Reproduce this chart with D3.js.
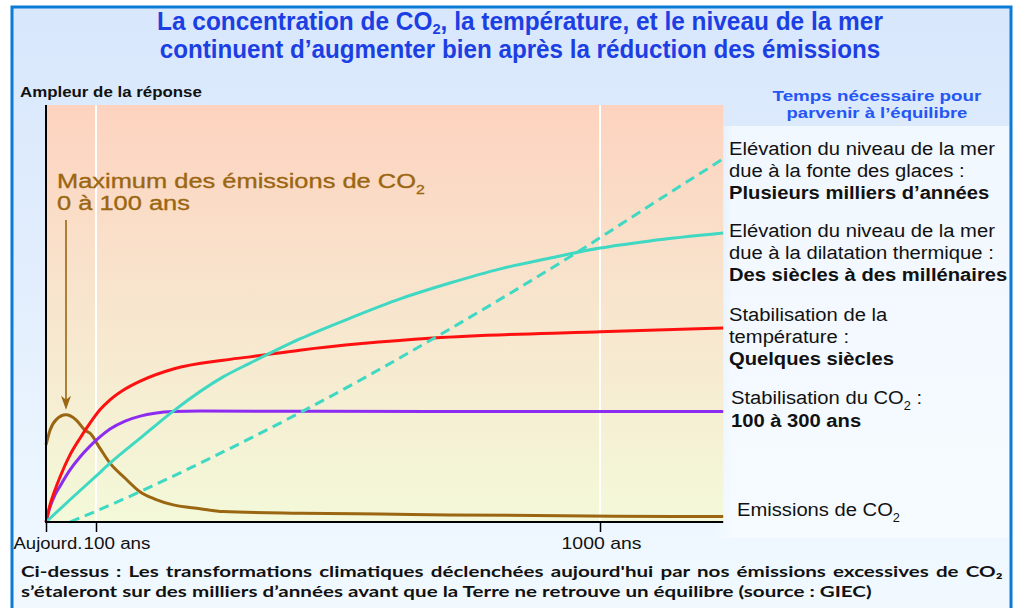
<!DOCTYPE html>
<html><head><meta charset="utf-8">
<script src="https://cdn.jsdelivr.net/npm/d3@7"></script>
<style>html,body{margin:0;padding:0;background:#fff;} svg{display:block;}</style>
</head><body>
<svg id="c" width="1018" height="608"></svg>
<script>
// ---------------- DATA ----------------
const xTickYears  = [0, 100, 1000];
const xTickLabels = ["Aujourd.", "100 ans", "1000 ans"];
const gridYears   = [100, 1000];
const horizonYears = 1220;
const valueMax = 100;

// [years after today, response amplitude]
const emissionsCO2 = [[0,18.5],[8,22],[20,24.5],[40,25.7],[60,24.5],[78,22],[88,21.3],[107,17.7],[125,14.1],[152,10.5],[179,7.2],[205,5.5],[238,4.1],[286,3.2],[327,2.5],[464,2.1],[607,1.9],[730,1.7],[1027,1.4],[1220,1.3]];
const co2Stabilisation = [[0,0],[8,3.6],[18,6.5],[28,8.6],[48,12.5],[68,15.6],[88,18.2],[107,20.4],[125,22.3],[152,24.2],[179,25.4],[205,26.1],[238,26.5],[286,26.6],[700,26.5],[1220,26.5]];
const temperature = [[0,0],[8,4.1],[18,7.7],[28,10.8],[48,16.1],[68,20.1],[88,23.7],[107,26.9],[125,29.3],[152,31.9],[179,33.8],[238,36.7],[327,38.8],[375,39.6],[464,41.2],[702,44.1],[1000,45.6],[1220,46.5]];
const thermalExpansion = [[0,0],[54,6],[100,11],[125,14.1],[179,20.1],[238,26.6],[327,34.8],[375,38.1],[464,43.9],[554,48.9],[643,53.5],[732,57.3],[822,60.7],[911,63.3],[1000,65.7],[1089,67.4],[1220,69.3]];
const iceMelt = [[48,0],[100,2.6],[179,7.3],[298,14.9],[464,26.2],[589,35.3],[709,44.5],[839,54.8],[970,65.6],[1089,75.9],[1220,87.1]];
const emissionsPeak = [40, 25.7];

const titleLines = ["La concentration de CO₂, la température, et le niveau de la mer",
                    "continuent d’augmenter bien après la réduction des émissions"];
const yAxisLabel = "Ampleur de la réponse";
const rightHeader = ["Temps nécessaire pour", "parvenir à l’équilibre"];
const peakLabel = ["Maximum des émissions de CO₂", "0 à 100 ans"];
const rightLabels = [
  [{t:"Elévation du niveau de la mer"},{t:"due à la fonte des glaces :"},{t:"Plusieurs milliers d’années",b:true}],
  [{t:"Elévation du niveau de la mer"},{t:"due à la dilatation thermique :"},{t:"Des siècles à des millénaires",b:true}],
  [{t:"Stabilisation de la"},{t:"température :"},{t:"Quelques siècles",b:true}],
  [{t:"Stabilisation du CO₂ :"},{t:"100 à 300 ans",b:true}],
  [{t:"Emissions de CO₂"}]
];
const captionLines = ["Ci-dessus : Les transformations climatiques déclenchées aujourd'hui par nos émissions excessives de CO\u2082",
                      "s’étaleront sur des milliers d’années avant que la Terre ne retrouve un équilibre (source : GIEC)"];

// ---------------- LAYOUT ----------------
const svg = d3.select("#c");
const FONT = "'Liberation Sans', Arial, Helvetica, sans-serif";
const plotTop = 105, plotBottom = 522;
const x = d3.scaleLinear().domain(xTickYears).range([46, 96, 600]);
const y = d3.scaleLinear().domain([0, valueMax]).range([plotBottom, plotTop]);

const defs = svg.append("defs");
function vgrad(id, stops, horiz) {
  const g = defs.append("linearGradient").attr("id", id).attr("x1",0).attr("y1",0)
    .attr("x2", horiz ? 1 : 0).attr("y2", horiz ? 0 : 1);
  stops.forEach(s => g.append("stop").attr("offset", s[0]).attr("stop-color", s[1]).attr("stop-opacity", s[2] === undefined ? 1 : s[2]));
}
vgrad("pageG", [[0,"#d8e7fc"],[0.45,"#e2eefd"],[0.85,"#eef7ff"],[1,"#f2faff"]]);
vgrad("plotG", [[0,"#fdd3bf"],[0.45,"#f8e4cd"],[1,"#f3f9d9"]]);
vgrad("panelG", [[0,"#f8fcff",0],[0.06,"#f8fcff",0.75],[1,"#f8fcff",0.75]], true);

function fitW(node, target, ax) {
  const L = node.getComputedTextLength();
  const s = target / L;
  node.setAttribute("transform", `translate(${ax},0) scale(${s},1) translate(${-ax},0)`);
  return s;
}
function scaleX(node, s, ax) {
  node.setAttribute("transform", `translate(${ax},0) scale(${s},1) translate(${-ax},0)`);
}
function richText(parent, str, tx, ty, size, subSize, subDy) {
  const t = parent.append("text").attr("x", tx).attr("y", ty).attr("font-size", size);
  const parts = str.split("₂");
  parts.forEach((p, i) => {
    if (i > 0) t.append("tspan").attr("font-size", subSize).attr("dy", subDy).text("2");
    if (p.length) {
      const sp = t.append("tspan").text(p);
      if (i > 0) sp.attr("dy", -subDy);
    }
  });
  return t;
}

// page background + border
svg.append("rect").attr("x", 12).attr("y", 7).attr("width", 999).attr("height", 615)
  .attr("fill", "url(#pageG)").attr("stroke", "#0b7bd5").attr("stroke-width", 3);
svg.append("rect").attr("x", 715).attr("y", 126).attr("width", 294).attr("height", 412)
  .attr("fill", "url(#panelG)");

// plot background
svg.append("rect").attr("x", x(0)).attr("y", plotTop)
  .attr("width", x(horizonYears) - x(0)).attr("height", plotBottom - plotTop)
  .attr("fill", "url(#plotG)");

// grid
svg.append("g").selectAll("line").data(gridYears).join("line")
  .attr("x1", d => x(d)).attr("x2", d => x(d)).attr("y1", plotTop).attr("y2", plotBottom)
  .attr("stroke", "#fff").attr("stroke-width", 2);

// curves
const line = d3.line().x(d => x(d[0])).y(d => y(d[1])).curve(d3.curveMonotoneX);
const series = [
  {d: emissionsCO2, c: "#9b6611"},
  {d: co2Stabilisation, c: "#8c2cf0"},
  {d: temperature, c: "#ff1010"},
  {d: thermalExpansion, c: "#3fd8c2"},
  {d: iceMelt, c: "#3fd8c2", dash: "10,6"}
];
svg.append("g").selectAll("path").data(series).join("path")
  .attr("d", s => line(s.d)).attr("fill", "none")
  .attr("stroke", s => s.c).attr("stroke-width", 3)
  .attr("stroke-dasharray", s => s.dash || null);

// axes
svg.append("line").attr("x1", x(0)).attr("x2", x(0)).attr("y1", plotTop).attr("y2", plotBottom)
  .attr("stroke", "#000").attr("stroke-width", 2);
svg.append("line").attr("x1", x(0) - 1).attr("x2", x(horizonYears)).attr("y1", plotBottom).attr("y2", plotBottom)
  .attr("stroke", "#000").attr("stroke-width", 2);
const xAxis = d3.axisBottom(x).tickValues(xTickYears).tickFormat((d, i) => xTickLabels[i])
  .tickSize(10).tickSizeOuter(0);
const axG = svg.append("g").attr("transform", `translate(0,${plotBottom})`).call(xAxis);
axG.select(".domain").remove();
axG.selectAll(".tick line").attr("stroke", "#000").attr("stroke-width", 1.5);
const tickShift = [1.5, 20.5, 1];
const tickWidth = [69, 67, 80];
axG.selectAll(".tick text").each(function(d, i) {
  const t = d3.select(this);
  t.attr("x", tickShift[i]).attr("y", 27).attr("dy", null)
   .attr("font-family", FONT).attr("font-size", 16).attr("fill", "#111").attr("text-anchor", "middle");
  fitW(this, tickWidth[i], tickShift[i]);
});

// arrow to emissions peak
const ax0 = x(emissionsPeak[0]), tipY = y(emissionsPeak[1]) - 5;
svg.append("line").attr("x1", ax0).attr("x2", ax0).attr("y1", 220).attr("y2", tipY - 6)
  .attr("stroke", "#9b6611").attr("stroke-width", 1.6);
svg.append("path")
  .attr("d", `M${ax0},${tipY} L${ax0 - 5},${tipY - 14} L${ax0},${tipY - 10} L${ax0 + 5},${tipY - 14} Z`)
  .attr("fill", "#9b6611");

// title
const tg = svg.append("g").attr("font-family", "'Liberation Sans Narrow', 'Liberation Sans', Arial, sans-serif")
  .attr("font-weight", "bold").attr("fill", "#1c3fe3").attr("text-anchor", "middle");
const titleW = [726, 721], titleY = [30, 58];
titleLines.forEach((s, i) => {
  const t = richText(tg, s, 520, titleY[i], 25, 15, 4);
  fitW(t.node(), titleW[i], 520);
});

// y axis label
const yl = svg.append("text").attr("x", 20).attr("y", 97).attr("font-family", FONT)
  .attr("font-weight", "bold").attr("font-size", 15).attr("fill", "#111").text(yAxisLabel);
fitW(yl.node(), 182, 20);

// right header
const rhW = [209, 181], rhY = [101.5, 118.5];
const rhg = svg.append("g").attr("font-family", FONT).attr("font-weight", "bold")
  .attr("fill", "#2556f4").attr("text-anchor", "middle");
rightHeader.forEach((s, i) => {
  const t = rhg.append("text").attr("x", 877).attr("y", rhY[i]).attr("font-size", 15).text(s);
  fitW(t.node(), rhW[i], 877);
});

// peak annotation
const pg = svg.append("g").attr("font-family", FONT).attr("fill", "#9b6611")
  .attr("stroke", "#9b6611").attr("stroke-width", 0.35);
const pl2 = richText(pg, peakLabel[1], 57, 210, 21, 13, 6);
const ps = fitW(pl2.node(), 133, 57);
const pl1 = richText(pg, peakLabel[0], 57, 188, 21, 13, 6);
scaleX(pl1.node(), ps, 57);

// right labels
const rlX = [729, 729, 729, 731, 737];
const rlY = [[155,177,199],[237,259,281],[321,343,365],[404,427],[516]];
const rg = svg.append("g").attr("font-family", FONT).attr("fill", "#111");
let rs = null;
rightLabels.forEach((blk, bi) => {
  blk.forEach((ln, li) => {
    const t = richText(rg, ln.t, rlX[bi], rlY[bi][li], 19, 12, 6);
    if (ln.b) t.attr("font-weight", "bold");
    if (rs === null) rs = fitW(t.node(), 266, rlX[bi]);
    else scaleX(t.node(), rs, rlX[bi]);
  });
});

// caption
const cg = svg.append("g").attr("font-family", "Lato, 'Noto Sans', sans-serif").attr("font-weight", "bold")
  .attr("font-size", 15.5).attr("fill", "#111");
const c2 = cg.append("text").attr("x", 21).attr("y", 597).text(captionLines[1]);
const cs = fitW(c2.node(), 851, 21);
const c1 = cg.append("text").attr("x", 21).attr("y", 577).text(captionLines[0]);
const L1 = c1.node().getComputedTextLength();
const nSp = captionLines[0].split(" ").length - 1;
c1.style("word-spacing", ((982 / cs - L1) / nSp) + "px");
scaleX(c1.node(), cs, 21);
</script>
</body></html>
